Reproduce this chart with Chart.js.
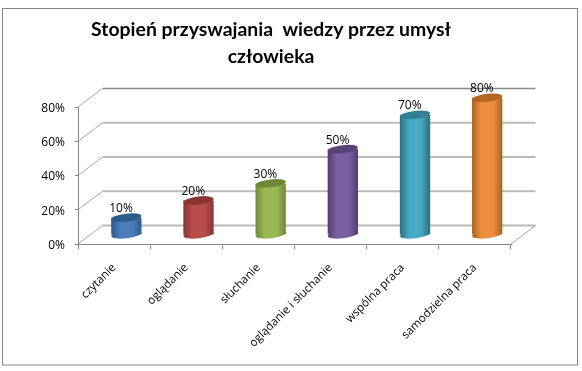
<!DOCTYPE html>
<html>
<head>
<meta charset="utf-8">
<script src="https://cdn.jsdelivr.net/npm/chart.js@4"></script>
<style>
  html, body { margin: 0; padding: 0; background: #fff; }
  #wrap { width: 582px; height: 371px; }
</style>
</head>
<body>
<div id="wrap"><canvas id="chart" width="582" height="371"></canvas></div>
<script>
const categories = ['czytanie', 'oglądanie', 'słuchanie', 'oglądanie i słuchanie', 'wspólna praca', 'samodzielna praca'];
const values = [10, 20, 30, 50, 70, 80];
const titleLines = ['Stopień przyswajania  wiedzy przez umysł', 'człowieka'];

// side / middle / cap colour of each cylinder
const sideColors = ['#2f5a8c', '#863533', '#6f8a3b', '#533d70', '#27707f', '#a96323'];
const midColors = ['#4a7ebb', '#b84c49', '#98b954', '#7c5fa3', '#46aac4', '#ee8f3f'];
const capColors = ['#2f5c8f', '#8b3533', '#6f8737', '#5a4276', '#317f92', '#b46724'];

// 3D depth of the box
const depthX = 24.5;
const depthY = -18.5;

function barFill(context) {
    const chart = context.chart;
    const i = context.dataIndex;
    const cx = chart.scales.x ? chart.scales.x.getPixelForValue(i) : NaN;
    // options also get resolved before the layout is done
    if (!Number.isFinite(cx)) return midColors[i] || midColors[0];
    const g = chart.ctx.createLinearGradient(cx - 15, 0, cx + 15, 0);
    g.addColorStop(0, sideColors[i]);
    g.addColorStop(0.3, midColors[i]);
    g.addColorStop(0.7, midColors[i]);
    g.addColorStop(1, sideColors[i]);
    return g;
}

// frame and the walls of the box, behind the bars
const boxPlugin = {
    id: 'box',
    beforeDraw(chart) {
        const ctx = chart.ctx;
        const { x, y } = chart.scales;
        ctx.save();
        ctx.strokeStyle = '#868686';
        ctx.lineWidth = 1;
        ctx.strokeRect(2.5, 8.5, 575, 356.5);

        const left = x.left;
        const right = x.right;
        y.ticks.forEach(t => {
            const py = y.getPixelForValue(t.value);
            ctx.strokeStyle = '#a6a6a6';
            ctx.lineWidth = 1;
            ctx.beginPath();
            ctx.moveTo(left, py);
            ctx.lineTo(left + depthX, py + depthY);
            ctx.stroke();
            ctx.strokeStyle = t.value === 80 ? '#8c8c8c' : '#bababa';
            ctx.lineWidth = t.value === 80 ? 1.5 : 2;
            ctx.beginPath();
            ctx.moveTo(left + depthX, py + depthY);
            ctx.lineTo(right + depthX, py + depthY);
            ctx.stroke();
        });
        const py0 = y.getPixelForValue(0);
        ctx.strokeStyle = '#a6a6a6';
        ctx.lineWidth = 1;
        ctx.beginPath();
        ctx.moveTo(right, py0);
        ctx.lineTo(right + depthX, py0 + depthY);
        ctx.stroke();
        ctx.restore();
    },
    afterLayout(chart) {
        // title is centred left of the middle of the picture
        chart.titleBlock.left = 0;
        chart.titleBlock.right = 542;
    }
};

// cylinders: bars pushed into the box, with elliptic ends
const cylinderPlugin = {
    id: 'cylinder',
    beforeDatasetsDraw(chart) {
        const ctx = chart.ctx;
        const meta = chart.getDatasetMeta(0);
        ctx.save();
        ctx.translate(depthX / 2, depthY / 2);
        meta.data.forEach(bar => {
            ctx.fillStyle = bar.options.backgroundColor;
            ctx.beginPath();
            ctx.ellipse(bar.x, bar.base, bar.width / 2, 4, -0.12, 0, Math.PI * 2);
            ctx.fill();
        });
    },
    afterDatasetsDraw(chart) {
        const ctx = chart.ctx;
        const meta = chart.getDatasetMeta(0);
        meta.data.forEach((bar, i) => {
            ctx.fillStyle = capColors[i];
            ctx.beginPath();
            ctx.ellipse(bar.x, bar.y, bar.width / 2, 4, -0.12, 0, Math.PI * 2);
            ctx.fill();
        });
        ctx.restore();

        ctx.save();
        ctx.fillStyle = '#000';
        ctx.font = '12px "Open Sans"';
        ctx.textAlign = 'center';
        ctx.textBaseline = 'middle';
        meta.data.forEach((bar, i) => {
            ctx.fillText(values[i] + '%', bar.x + 7, bar.y + depthY / 2 - 9);
        });
        ctx.restore();
    }
};

new Chart(document.getElementById('chart'), {
    type: 'bar',
    data: {
        labels: categories,
        datasets: [
            {
                data: values,
                backgroundColor: barFill,
                borderWidth: 0,
                categoryPercentage: 1,
                barPercentage: 0.42,
                clip: false
            }
        ]
    },
    options: {
        responsive: false,
        animation: false,
        layout: { padding: { top: 0, left: 0, right: 71, bottom: 0 } },
        plugins: {
            legend: { display: false },
            tooltip: { enabled: false },
            title: {
                display: true,
                text: titleLines,
                color: '#000',
                font: { family: 'Lato', size: 19.4, weight: 'bold', lineHeight: 1.392 },
                padding: { top: 16, bottom: 37 }
            }
        },
        scales: {
            x: {
                offset: true,
                grid: { offset: true, drawOnChartArea: false, color: '#868686', tickLength: 5 },
                border: { color: '#868686' },
                afterFit(scale) { scale.height = 127; },
                ticks: {
                    color: '#000',
                    font: { family: 'Open Sans', size: 11.5 },
                    minRotation: 45,
                    maxRotation: 45,
                    autoSkip: false,
                    padding: 12
                }
            },
            y: {
                min: 0,
                max: 80,
                grid: { drawOnChartArea: false, color: '#868686', tickLength: 3 },
                border: { color: '#868686' },
                afterFit(scale) { scale.width = 78; },
                ticks: {
                    stepSize: 20,
                    color: '#000',
                    font: { family: 'Open Sans', size: 12 },
                    padding: 10,
                    labelOffset: 1.5,
                    callback: v => v + '%'
                }
            }
        }
    },
    plugins: [boxPlugin, cylinderPlugin]
});
</script>
</body>
</html>
